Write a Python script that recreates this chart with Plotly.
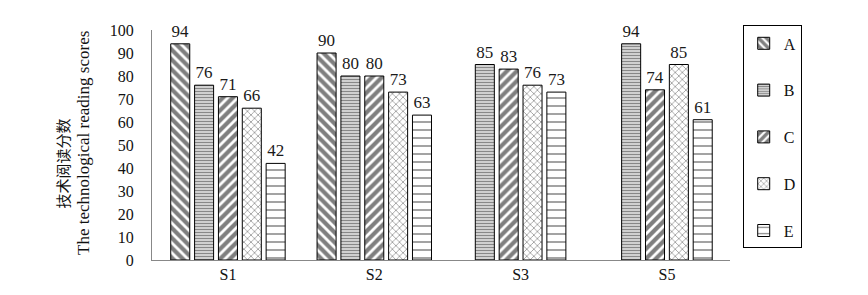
import plotly.graph_objects as go

categories = ["S1", "S2", "S3", "S5"]
series_names = ["A", "B", "C", "D", "E"]
A = [94, 90, None, None]
B = [76, 80, 85, 94]
C = [71, 80, 83, 74]
D = [66, 73, 76, 85]
E = [42, 63, 73, 61]
y_ticks = [0, 10, 20, 30, 40, 50, 60, 70, 80, 90, 100]

series_values = [A, B, C, D, E]
patterns = [
    dict(shape="\\", size=7, solidity=0.6, fgcolor="black", bgcolor="white"),
    dict(shape="-", size=3, solidity=0.6, fgcolor="#111111", bgcolor="white"),
    dict(shape="/", size=7, solidity=0.6, fgcolor="black", bgcolor="white"),
    dict(shape="x", size=5, solidity=0.3, fgcolor="#333333", bgcolor="white"),
    dict(shape="-", size=8, solidity=0.18, fgcolor="black", bgcolor="white"),
]

W = 0.13
P = 0.163

present = [[k for k in range(len(series_values)) if series_values[k][i] is not None]
           for i in range(len(categories))]

SERIF = "Liberation Serif, Times New Roman, Noto Sans CJK SC, serif"

fig = go.Figure()
for k, (name, vals) in enumerate(zip(series_names, series_values)):
    xs, ys, offs = [], [], []
    for i, v in enumerate(vals):
        if v is None:
            continue
        n = len(present[i])
        pos = present[i].index(k)
        xs.append(i)
        ys.append(v)
        offs.append((pos - (n - 1) / 2) * P - W / 2)
    fig.add_trace(go.Bar(
        name=name, x=xs, y=ys, offset=offs, width=W,
        marker=dict(color="white", pattern=patterns[k],
                    line=dict(color="black", width=1)),
        text=[str(v) for v in ys], textposition="outside",
        textfont=dict(family=SERIF, size=17, color="#1a1a1a"),
        cliponaxis=False, legendgroup=name,
    ))

fig.update_layout(
    width=868, height=295,
    margin=dict(l=152, r=138, t=30, b=30),
    plot_bgcolor="white", paper_bgcolor="white",
    barmode="overlay",
    font=dict(family=SERIF, size=16, color="#111111"),
    showlegend=True,
    legend=dict(
        x=1.022, xanchor="left", y=1.02, yanchor="top",
        bordercolor="black", borderwidth=1,
        font=dict(family=SERIF, size=16, color="#111111"),
        tracegroupgap=23, traceorder="grouped",
        itemwidth=30, maxheight=280,
    ),
    xaxis=dict(
        tickmode="array", tickvals=list(range(len(categories))), ticktext=categories,
        range=[-0.519, 3.431], showline=True, linecolor="#888888", linewidth=1,
        ticks="", showgrid=False, zeroline=False,
        tickfont=dict(family=SERIF, size=16, color="#111111"),
    ),
    yaxis=dict(
        range=[0, 100], tickvals=y_ticks, showline=True, linecolor="#888888",
        linewidth=1, ticks="", showgrid=False, zeroline=False,
        ticklabelstandoff=14,
        tickfont=dict(family=SERIF, size=16, color="#111111"),
    ),
    annotations=[
        dict(text="技术阅读分数", xref="paper", yref="paper", x=-0.152, y=0.42,
             xanchor="center", yanchor="middle", textangle=-90, showarrow=False,
             font=dict(family=SERIF, size=15, color="#111111")),
        dict(text="The technological reading scores", xref="paper", yref="paper",
             x=-0.119, y=0.51, xanchor="center", yanchor="middle", textangle=-90,
             showarrow=False, font=dict(family=SERIF, size=17, color="#111111")),
    ],
)

fig.write_html("out.html")
